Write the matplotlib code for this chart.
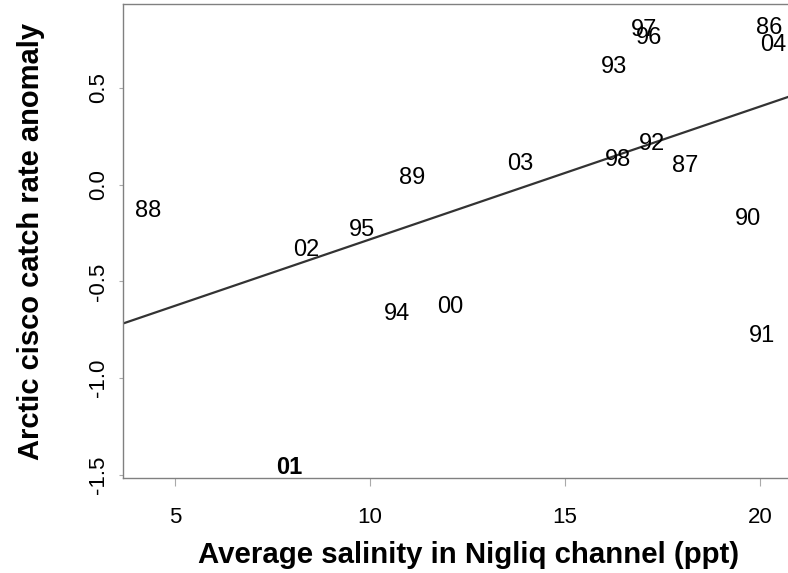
import matplotlib
matplotlib.use("Agg")
import matplotlib.pyplot as plt

plt.rcParams['font.family'] = ['Liberation Sans', 'DejaVu Sans']

# year labels, salinity (ppt) and catch rate anomaly for each season
years = ['88', '02', '95', '89', '03', '98', '92', '87', '93', '97', '96',
         '86', '04', '90', '94', '00', '91', '01']
salinity = [4.31, 8.38, 9.79, 11.08, 13.85, 16.35, 17.23, 18.08, 16.26, 17.03,
            17.15, 20.24, 20.33, 19.69, 10.69, 12.05, 20.05, 7.92]
anomaly = [-0.138, -0.339, -0.236, 0.033, 0.105, 0.128, 0.208, 0.097, 0.606,
           0.80, 0.758, 0.81, 0.72, -0.179, -0.670, -0.634, -0.784, -1.46]
bold_years = ['01']

# fitted regression line
fit_intercept = -0.969
fit_slope = 0.0686

xticks = [5, 10, 15, 20]
yticks = [-1.5, -1.0, -0.5, 0.0, 0.5]

fig = plt.figure(figsize=(7.88, 5.73), dpi=100)
ax = fig.add_axes([0.156, 0.1658, 0.844, 0.8267])

ax.axline((0, fit_intercept), slope=fit_slope, color='#333333', lw=1.6)

for yr, x, y in zip(years, salinity, anomaly):
    ax.text(x, y, yr, ha='center', va='center', fontsize=17,
            fontweight='bold' if yr in bold_years else 'normal')

ax.set_xlim(3.667, 20.72)
ax.set_ylim(-1.515, 0.931)

ax.set_xticks(xticks)
ax.set_xticklabels([str(t) for t in xticks])
ax.set_yticks(yticks)
ax.set_yticklabels(['%.1f' % t for t in yticks], rotation=90, va='center')

for side in ['left', 'top', 'bottom']:
    ax.spines[side].set_color('#808080')
    ax.spines[side].set_linewidth(1.0)
ax.spines['right'].set_visible(False)

ax.tick_params(axis='x', length=6, width=0.8, color='#aaaaaa', pad=15, labelsize=16)
ax.tick_params(axis='y', length=3, width=0.8, color='#aaaaaa', pad=7, labelsize=16)

ax.set_xlabel('Average salinity in Nigliq channel (ppt)', fontsize=21.2,
              fontweight='bold', labelpad=9)
ax.set_ylabel('Arctic cisco catch rate anomaly', fontsize=21,
              fontweight='bold', labelpad=31)
# the x label sits a little right of the axes centre
ax.xaxis.label.set_x(0.519)

fig.savefig('out.png', dpi=100)
